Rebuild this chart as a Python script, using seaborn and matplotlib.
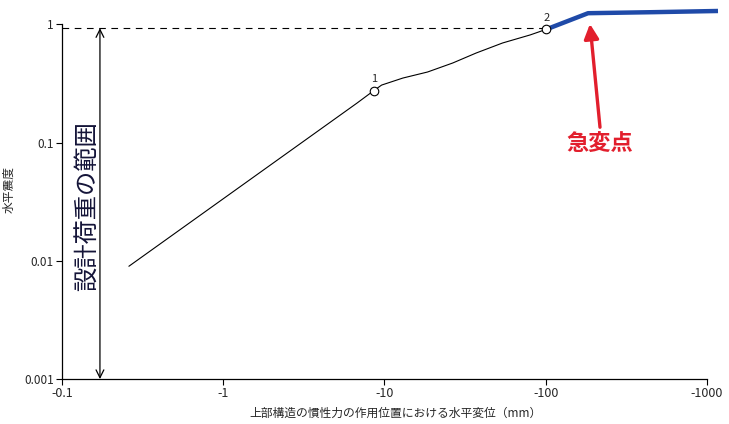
import numpy as np
import pandas as pd
import seaborn as sns
import matplotlib
matplotlib.use('Agg')
import matplotlib.pyplot as plt
from matplotlib.ticker import NullLocator

# 黒線（点1, 点2 を通る）
disp_black = [0.26, 6.75, 8.6, 9.6, 13.0, 18.5, 26.5, 37.0, 54.0, 80.0, 101.0]
kh_black = [0.0090, 0.216, 0.276, 0.307, 0.352, 0.396, 0.472, 0.573, 0.697, 0.815, 0.91]
# 青線（点2以降）
disp_blue = [101.0, 183.0, 462.0, 1170.0]
kh_blue = [0.91, 1.245, 1.27, 1.30]
# 点番号
pt_disp = [8.6, 101.0]
pt_kh = [0.276, 0.91]
pt_name = ['1', '2']
design_kh = 0.93
xticks = [0.1, 1, 10, 100, 1000]
xtick_labels = ['-0.1', '-1', '-10', '-100', '-1000']
yticks = [0.001, 0.01, 0.1, 1]
ytick_labels = ['0.001', '0.01', '0.1', '1']

sns.set_style('white')
plt.rcParams['font.family'] = ['Noto Sans CJK JP', 'DejaVu Sans']

df_b = pd.DataFrame({'x': disp_black, 'y': kh_black})
df_u = pd.DataFrame({'x': disp_blue, 'y': kh_blue})

fig = plt.figure(figsize=(7.29, 4.24), dpi=100)
ax = fig.add_axes([0.085, 0.106, 0.915, 0.894])
ax.set_xscale('log')
ax.set_yscale('log')

sns.lineplot(data=df_b, x='x', y='y', color='black', lw=0.8, estimator=None, ax=ax)
sns.lineplot(data=df_u, x='x', y='y', color='#1f4aa8', lw=3.2, estimator=None, ax=ax,
             solid_capstyle='butt')
ax.scatter(pt_disp, pt_kh, s=38, facecolor='white', edgecolor='black', lw=0.8, zorder=5)
for xx, yy, t in zip(pt_disp, pt_kh, pt_name):
    ax.text(xx, yy * 1.13, t, ha='center', va='bottom', fontsize=8)

# 設計荷重の水平線
ax.plot([0.1, pt_disp[1]], [design_kh, design_kh], color='black', lw=0.8, ls=(0, (6, 5)))

# 設計荷重の範囲（両矢印）
ax.annotate('', xy=(0.172, design_kh), xytext=(0.172, 0.001),
            arrowprops=dict(arrowstyle='<->', lw=0.9, color='black',
                            mutation_scale=14, shrinkA=0, shrinkB=0))
ax.text(0.145, 0.029, '設計荷重の範囲', rotation=90, ha='center', va='center',
        fontsize=17.5, color='#141438')

# 急変点
ax.annotate('', xy=(188, 1.01), xytext=(217, 0.135),
            arrowprops=dict(arrowstyle='-|>', lw=2.4, color='#e21f2d',
                            mutation_scale=22, shrinkA=0, shrinkB=0))
ax.text(217, 0.099, '急変点', ha='center', va='center', fontsize=16,
        color='#e21f2d', fontweight='bold')

ax.set_xlim(0.1, 1369)
ax.set_ylim(0.001, 1.61)
ax.set_xticks(xticks)
ax.set_xticklabels(xtick_labels, fontsize=9)
ax.set_yticks(yticks)
ax.set_yticklabels(ytick_labels, fontsize=8.5)
ax.xaxis.set_minor_locator(NullLocator())
ax.yaxis.set_minor_locator(NullLocator())
ax.tick_params(axis='both', direction='out', length=4, width=0.8, pad=2, color='black',
               bottom=True, left=True)
ax.spines['top'].set_visible(False)
ax.spines['right'].set_visible(False)
for s in ['left', 'bottom']:
    ax.spines[s].set_color('black')
    ax.spines[s].set_linewidth(0.9)
ax.spines['left'].set_bounds(0.001, 1)
ax.spines['bottom'].set_bounds(0.1, 1000)

ax.set_xlabel('上部構造の慣性力の作用位置における水平変位（mm）', fontsize=8.5, labelpad=5)
ax.set_ylabel('水平震度', fontsize=8.5)
ax.yaxis.set_label_coords(-0.07, 0.5)

fig.savefig('out.png', dpi=100)
